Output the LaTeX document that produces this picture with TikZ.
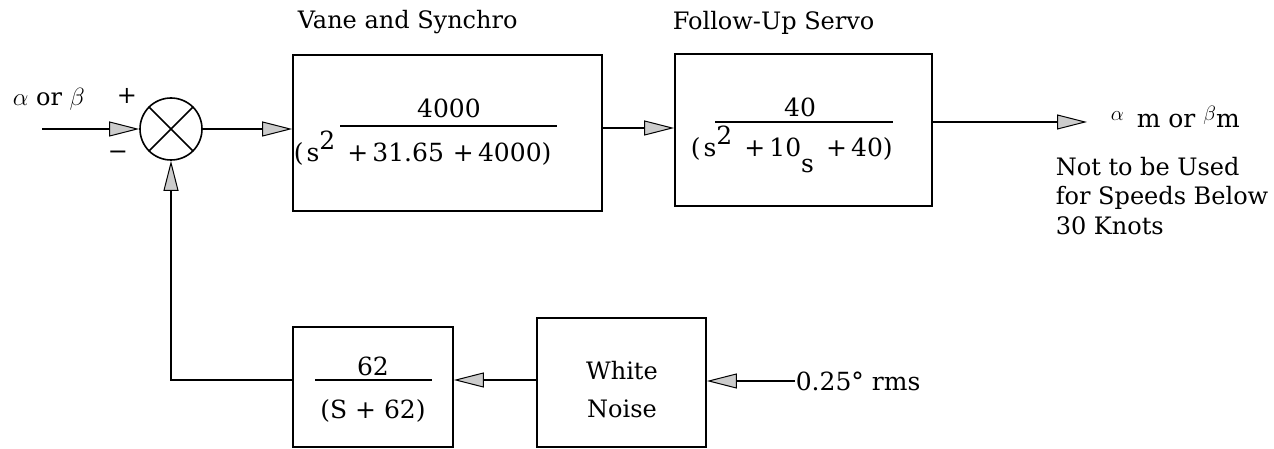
\documentclass[tikz,border=0pt]{standalone}
\usepackage{fontspec}
\setmainfont{DejaVu Serif}
\usetikzlibrary{arrows.meta}
\begin{document}
\begin{tikzpicture}[x=1pt,y=-1pt,
  line width=1.6pt,
  blk/.style={draw,rectangle,inner sep=0pt},
  sumj/.style={draw,circle,minimum size=62pt,inner sep=0pt},
  arr/.style={-{Triangle[length=30pt,width=15pt,fill=gray!40,line width=1pt]}},
  lbl/.style={inner sep=0pt,font=\fontsize{24}{28}\selectfont},
  btxt/.style={inner sep=0pt,font=\fontsize{25}{29}\selectfont},
  bar/.style={line width=1.4pt},
]
\useasboundingbox (0,0) rectangle (1274,449);
% summing junction
\node[sumj] (sum) at (171,129) {};
\draw (sum.north west) -- (sum.south east);
\draw (sum.north east) -- (sum.south west);
\coordinate (in) at (42,129);
\draw[arr] (in) -- (sum.west);
\node[lbl,anchor=base west] (inlbl) at (12,106) {$\alpha$ or $\beta$};
\node[lbl] (plus) at (127,96) {+};
\node[lbl] (minus) at (118,155) {\textminus};
% forward blocks
\node[blk,minimum width=309pt,minimum height=156pt] (b1) at (447.5,133) {};
\node[blk,minimum width=257pt,minimum height=152pt] (b2) at (803.5,130) {};
\draw[arr] (sum.east) -- (sum.east -| b1.west);
\coordinate (m12) at (640,128);
\draw[arr] (m12 -| b1.east) -- (m12 -| b2.west);
\coordinate (out) at (1087,122);
\draw[arr] (out -| b2.east) -- (out);
\node[lbl,anchor=base west] (t1) at (297,29) {Vane and Synchro};
\node[lbl,anchor=base west] (t2) at (672,30) {Follow-Up Servo};
% block 1 content
\node[btxt] (n1) at (449,108) {4000};
\draw[bar] (340,126) -- (557,126);
\node[btxt,anchor=base west] (d1) at (293,162) {(\hspace{3pt}s\raisebox{12pt}{2}\hspace{12pt}+\,31.65\hspace{9pt}+\,4000)};
% block 2 content
\node[btxt] (n2) at (800,107) {40};
\draw[bar] (715,122) -- (893,122);
\node[btxt,anchor=base west] (d2) at (690,157) {(\hspace{3pt}s\raisebox{12pt}{2}\hspace{12pt}+\,10\raisebox{-16pt}{s}\hspace{12pt}+\,40)};
% output labels
\node[btxt,anchor=base west] (outlbl) at (1110,128) {\raisebox{7pt}{\fontsize{20}{20}\selectfont$\alpha$}\hspace{5pt} m or \raisebox{7pt}{\fontsize{20}{20}\selectfont$\beta$}m};
\node[lbl,anchor=base west] (note1) at (1055,176) {Not to be Used};
\node[lbl,anchor=base west] (note2) at (1055,205) {for Speeds Below};
\node[lbl,anchor=base west] (note3) at (1055,234) {30 Knots};
% feedback blocks
\node[blk,minimum width=160pt,minimum height=120pt] (b3) at (373,387) {};
\node[blk,minimum width=169pt,minimum height=129pt] (b4) at (621.5,382.5) {};
\node[btxt] (n3) at (373,366) {62};
\draw[bar] (315,380) -- (432,380);
\node[btxt] (d3) at (373,411) {(S + 62)};
\node[lbl] (w1) at (622,371) {White};
\node[lbl] (w2) at (622,409) {Noise};
\node[btxt,anchor=west] (rms) at (795,381) {0.25° rms};
\coordinate (fb) at (600,380);
\draw[arr] (rms.west) -- (rms.west -| b4.east);
\draw[arr] (fb -| b4.west) -- (fb -| b3.east);
\draw[arr] (fb -| b3.west) -| (sum.south);
\end{tikzpicture}
\end{document}
